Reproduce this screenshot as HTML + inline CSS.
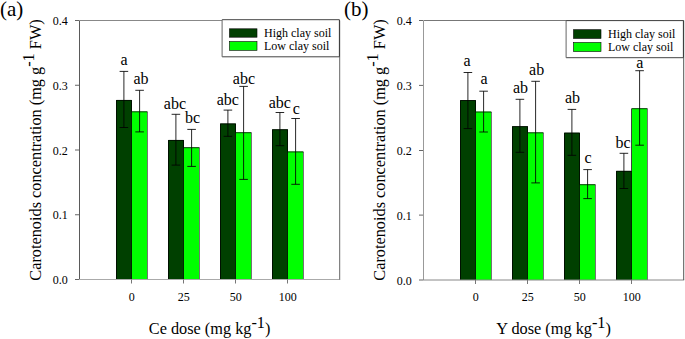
<!DOCTYPE html>
<html><head><meta charset="utf-8"><style>
html,body{margin:0;padding:0;background:#fff;}
body{width:685px;height:339px;overflow:hidden;}
svg{display:block;font-family:"Liberation Serif", serif;}
</style></head><body>
<svg width="685" height="339" viewBox="0 0 685 339">
<rect width="685" height="339" fill="#fff"/>
<text x="0" y="16" font-size="21">(a)</text>
<text x="344" y="16" font-size="21">(b)</text>
<rect x="116.00" y="100.00" width="16.00" height="179.50" fill="#004000"/>
<rect x="132.00" y="111.40" width="15.00" height="168.10" fill="#00ff00"/>
<rect x="168.00" y="140.00" width="16.00" height="139.50" fill="#004000"/>
<rect x="184.00" y="147.30" width="15.00" height="132.20" fill="#00ff00"/>
<rect x="220.00" y="123.50" width="16.00" height="156.00" fill="#004000"/>
<rect x="236.00" y="132.30" width="15.00" height="147.20" fill="#00ff00"/>
<rect x="272.00" y="129.30" width="16.00" height="150.20" fill="#004000"/>
<rect x="288.00" y="151.50" width="15.00" height="128.00" fill="#00ff00"/>
<path d="M116.50 279.5V100.40H131.50M131.50 111.80H147.50" stroke="#000" stroke-width="0.75" fill="none"/>
<path d="M147.50 111.80V279.5" stroke="#000" stroke-width="0.55" fill="none"/>
<path d="M131.50 100.40V111.40" stroke="#000" stroke-width="0.75" fill="none"/>
<path d="M131.50 111.40V279.5" stroke="#000" stroke-width="0.4" fill="none"/>
<path d="M168.50 279.5V140.40H183.50M183.50 147.70H199.50" stroke="#000" stroke-width="0.75" fill="none"/>
<path d="M199.50 147.70V279.5" stroke="#000" stroke-width="0.55" fill="none"/>
<path d="M183.50 140.40V147.30" stroke="#000" stroke-width="0.75" fill="none"/>
<path d="M183.50 147.30V279.5" stroke="#000" stroke-width="0.4" fill="none"/>
<path d="M220.50 279.5V123.90H235.50M235.50 132.70H251.50" stroke="#000" stroke-width="0.75" fill="none"/>
<path d="M251.50 132.70V279.5" stroke="#000" stroke-width="0.55" fill="none"/>
<path d="M235.50 123.90V132.30" stroke="#000" stroke-width="0.75" fill="none"/>
<path d="M235.50 132.30V279.5" stroke="#000" stroke-width="0.4" fill="none"/>
<path d="M272.50 279.5V129.70H287.50M287.50 151.90H303.50" stroke="#000" stroke-width="0.75" fill="none"/>
<path d="M303.50 151.90V279.5" stroke="#000" stroke-width="0.55" fill="none"/>
<path d="M287.50 129.70V151.50" stroke="#000" stroke-width="0.75" fill="none"/>
<path d="M287.50 151.50V279.5" stroke="#000" stroke-width="0.4" fill="none"/>
<path d="M123.90 71.40V127.50M119.60 71.40H128.20M119.60 127.50H128.20" stroke="#000" stroke-width="0.85" fill="none"/>
<path d="M139.60 90.30V131.90M135.30 90.30H143.90M135.30 131.90H143.90" stroke="#000" stroke-width="0.85" fill="none"/>
<path d="M175.90 114.30V165.10M171.60 114.30H180.20M171.60 165.10H180.20" stroke="#000" stroke-width="0.85" fill="none"/>
<path d="M191.60 129.40V166.40M187.30 129.40H195.90M187.30 166.40H195.90" stroke="#000" stroke-width="0.85" fill="none"/>
<path d="M227.90 110.10V136.30M223.60 110.10H232.20M223.60 136.30H232.20" stroke="#000" stroke-width="0.85" fill="none"/>
<path d="M243.60 86.40V179.40M239.30 86.40H247.90M239.30 179.40H247.90" stroke="#000" stroke-width="0.85" fill="none"/>
<path d="M279.90 112.50V145.70M275.60 112.50H284.20M275.60 145.70H284.20" stroke="#000" stroke-width="0.85" fill="none"/>
<path d="M295.60 118.50V184.30M291.30 118.50H299.90M291.30 184.30H299.90" stroke="#000" stroke-width="0.85" fill="none"/>
<path d="M79.5 20.5H339.7" stroke="#888" stroke-width="1"/>
<path d="M79.5 20.5V279.5" stroke="#5a5a5a" stroke-width="1"/>
<path d="M79.0 279.5H340.2" stroke="#aaa" stroke-width="1"/>
<path d="M339.7 20.5V279.5" stroke="#666" stroke-width="1"/>
<path d="M75 279.50H79" stroke="#666" stroke-width="1"/>
<text x="67.8" y="284.00" font-size="12" text-anchor="end">0.0</text>
<path d="M75 214.75H79" stroke="#666" stroke-width="1"/>
<text x="67.8" y="219.25" font-size="12" text-anchor="end">0.1</text>
<path d="M75 150.00H79" stroke="#666" stroke-width="1"/>
<text x="67.8" y="154.50" font-size="12" text-anchor="end">0.2</text>
<path d="M75 85.25H79" stroke="#666" stroke-width="1"/>
<text x="67.8" y="89.75" font-size="12" text-anchor="end">0.3</text>
<path d="M75 20.50H79" stroke="#666" stroke-width="1"/>
<text x="67.8" y="25.00" font-size="12" text-anchor="end">0.4</text>
<path d="M131.50 279.5V283.5" stroke="#777" stroke-width="1"/>
<text x="131.70" y="300.80" font-size="12" text-anchor="middle">0</text>
<path d="M183.50 279.5V283.5" stroke="#777" stroke-width="1"/>
<text x="183.70" y="300.80" font-size="12" text-anchor="middle">25</text>
<path d="M235.50 279.5V283.5" stroke="#777" stroke-width="1"/>
<text x="235.70" y="300.80" font-size="12" text-anchor="middle">50</text>
<path d="M287.50 279.5V283.5" stroke="#777" stroke-width="1"/>
<text x="287.70" y="300.80" font-size="12" text-anchor="middle">100</text>
<text x="120.50" y="65.00" font-size="16">a</text>
<text x="133.50" y="84.00" font-size="16">ab</text>
<text x="163.80" y="109.00" font-size="16">abc</text>
<text x="185.00" y="123.00" font-size="16">bc</text>
<text x="216.70" y="105.00" font-size="16">abc</text>
<text x="232.80" y="84.00" font-size="16">abc</text>
<text x="268.70" y="108.00" font-size="16">abc</text>
<text x="292.80" y="114.00" font-size="16">c</text>
<rect x="222.1" y="19.7" width="117.29999999999998" height="37.099999999999994" fill="#fff" stroke="none"/>
<path d="M222.1 19.7H339.4M222.1 56.8H339.4" stroke="#444" stroke-width="1" fill="none"/>
<path d="M222.1 19.7V56.8" stroke="#666" stroke-width="1" fill="none"/>
<path d="M339.4 19.7V56.8" stroke="#333" stroke-width="1" fill="none"/>
<rect x="229.5" y="28.80" width="27.5" height="8.40" fill="#004000" stroke="#000" stroke-width="0.6"/>
<rect x="229.5" y="41.60" width="27.5" height="8.7" fill="#00ff00" stroke="#000" stroke-width="0.6"/>
<text x="264" y="37.40" font-size="12">High clay soil</text>
<text x="264" y="50.20" font-size="12">Low clay soil</text>
<text transform="translate(40.6,150.0) rotate(-90)" font-size="16.3" text-anchor="middle">Carotenoids concentration (mg g<tspan dy="-6.5">-1</tspan><tspan dy="6.5"> FW)</tspan></text>
<text x="209.6" y="333.8" font-size="16.3" text-anchor="middle">Ce dose (mg kg<tspan dy="-6">-1</tspan><tspan dy="6">)</tspan></text>
<rect x="460.00" y="100.10" width="16.00" height="179.90" fill="#004000"/>
<rect x="476.00" y="111.60" width="15.00" height="168.40" fill="#00ff00"/>
<rect x="512.00" y="126.20" width="16.00" height="153.80" fill="#004000"/>
<rect x="528.00" y="132.40" width="15.00" height="147.60" fill="#00ff00"/>
<rect x="564.00" y="132.70" width="16.00" height="147.30" fill="#004000"/>
<rect x="580.00" y="184.30" width="15.00" height="95.70" fill="#00ff00"/>
<rect x="616.00" y="170.90" width="16.00" height="109.10" fill="#004000"/>
<rect x="632.00" y="108.30" width="15.00" height="171.70" fill="#00ff00"/>
<path d="M460.50 280V100.50H475.50M475.50 112.00H491.50" stroke="#000" stroke-width="0.75" fill="none"/>
<path d="M491.50 112.00V280" stroke="#000" stroke-width="0.55" fill="none"/>
<path d="M475.50 100.50V111.60" stroke="#000" stroke-width="0.75" fill="none"/>
<path d="M475.50 111.60V280" stroke="#000" stroke-width="0.4" fill="none"/>
<path d="M512.50 280V126.60H527.50M527.50 132.80H543.50" stroke="#000" stroke-width="0.75" fill="none"/>
<path d="M543.50 132.80V280" stroke="#000" stroke-width="0.55" fill="none"/>
<path d="M527.50 126.60V132.40" stroke="#000" stroke-width="0.75" fill="none"/>
<path d="M527.50 132.40V280" stroke="#000" stroke-width="0.4" fill="none"/>
<path d="M564.50 280V133.10H579.50M579.50 184.70H595.50" stroke="#000" stroke-width="0.75" fill="none"/>
<path d="M595.50 184.70V280" stroke="#000" stroke-width="0.55" fill="none"/>
<path d="M579.50 133.10V184.30" stroke="#000" stroke-width="0.75" fill="none"/>
<path d="M579.50 184.30V280" stroke="#000" stroke-width="0.4" fill="none"/>
<path d="M616.50 280V171.30H631.50M631.50 108.70H647.50" stroke="#000" stroke-width="0.75" fill="none"/>
<path d="M647.50 108.70V280" stroke="#000" stroke-width="0.55" fill="none"/>
<path d="M631.50 108.70V170.90" stroke="#000" stroke-width="0.75" fill="none"/>
<path d="M631.50 170.90V280" stroke="#000" stroke-width="0.4" fill="none"/>
<path d="M467.90 72.50V128.60M463.60 72.50H472.20M463.60 128.60H472.20" stroke="#000" stroke-width="0.85" fill="none"/>
<path d="M483.60 91.20V132.00M479.30 91.20H487.90M479.30 132.00H487.90" stroke="#000" stroke-width="0.85" fill="none"/>
<path d="M519.90 99.30V152.30M515.60 99.30H524.20M515.60 152.30H524.20" stroke="#000" stroke-width="0.85" fill="none"/>
<path d="M535.60 81.30V182.90M531.30 81.30H539.90M531.30 182.90H539.90" stroke="#000" stroke-width="0.85" fill="none"/>
<path d="M571.90 109.40V155.30M567.60 109.40H576.20M567.60 155.30H576.20" stroke="#000" stroke-width="0.85" fill="none"/>
<path d="M587.60 169.60V198.60M583.30 169.60H591.90M583.30 198.60H591.90" stroke="#000" stroke-width="0.85" fill="none"/>
<path d="M623.90 153.30V188.50M619.60 153.30H628.20M619.60 188.50H628.20" stroke="#000" stroke-width="0.85" fill="none"/>
<path d="M639.60 70.70V145.20M635.30 70.70H643.90M635.30 145.20H643.90" stroke="#000" stroke-width="0.85" fill="none"/>
<path d="M423.5 20.5H683.7" stroke="#777" stroke-width="1"/>
<path d="M423.5 20.5V280" stroke="#999" stroke-width="1"/>
<path d="M423.0 280H684.2" stroke="#888" stroke-width="1"/>
<path d="M683.7 20.5V280" stroke="#555" stroke-width="1"/>
<path d="M419 280.00H423" stroke="#666" stroke-width="1"/>
<text x="411.8" y="284.50" font-size="12" text-anchor="end">0.0</text>
<path d="M419 215.10H423" stroke="#666" stroke-width="1"/>
<text x="411.8" y="219.62" font-size="12" text-anchor="end">0.1</text>
<path d="M419 150.50H423" stroke="#666" stroke-width="1"/>
<text x="411.8" y="154.75" font-size="12" text-anchor="end">0.2</text>
<path d="M419 85.40H423" stroke="#666" stroke-width="1"/>
<text x="411.8" y="89.88" font-size="12" text-anchor="end">0.3</text>
<path d="M419 20.50H423" stroke="#666" stroke-width="1"/>
<text x="411.8" y="25.00" font-size="12" text-anchor="end">0.4</text>
<path d="M475.50 280V284" stroke="#777" stroke-width="1"/>
<text x="475.70" y="300.80" font-size="12" text-anchor="middle">0</text>
<path d="M527.50 280V284" stroke="#777" stroke-width="1"/>
<text x="527.70" y="300.80" font-size="12" text-anchor="middle">25</text>
<path d="M579.50 280V284" stroke="#777" stroke-width="1"/>
<text x="579.70" y="300.80" font-size="12" text-anchor="middle">50</text>
<path d="M631.50 280V284" stroke="#777" stroke-width="1"/>
<text x="631.70" y="300.80" font-size="12" text-anchor="middle">100</text>
<text x="463.50" y="66.00" font-size="16">a</text>
<text x="480.40" y="84.00" font-size="16">a</text>
<text x="513.00" y="93.00" font-size="16">ab</text>
<text x="529.10" y="75.00" font-size="16">ab</text>
<text x="565.00" y="103.00" font-size="16">ab</text>
<text x="584.50" y="163.00" font-size="16">c</text>
<text x="615.50" y="148.00" font-size="16">bc</text>
<text x="636.20" y="68.00" font-size="16">a</text>
<rect x="566.1" y="20.6" width="117.29999999999998" height="37.1" fill="#fff" stroke="none"/>
<path d="M566.1 20.6H683.4M566.1 57.7H683.4" stroke="#444" stroke-width="1" fill="none"/>
<path d="M566.1 20.6V57.7" stroke="#666" stroke-width="1" fill="none"/>
<path d="M683.4 20.6V57.7" stroke="#333" stroke-width="1" fill="none"/>
<rect x="573.5" y="29.70" width="27.5" height="8.70" fill="#004000" stroke="#000" stroke-width="0.6"/>
<rect x="573.5" y="42.50" width="27.5" height="9.0" fill="#00ff00" stroke="#000" stroke-width="0.6"/>
<text x="608" y="38.30" font-size="12">High clay soil</text>
<text x="608" y="51.10" font-size="12">Low clay soil</text>
<text transform="translate(384.6,150.0) rotate(-90)" font-size="16.3" text-anchor="middle">Carotenoids concentration (mg g<tspan dy="-6.5">-1</tspan><tspan dy="6.5"> FW)</tspan></text>
<text x="553.6" y="333.8" font-size="16.3" text-anchor="middle">Y dose (mg kg<tspan dy="-6">-1</tspan><tspan dy="6">)</tspan></text>
</svg>
</body></html>
